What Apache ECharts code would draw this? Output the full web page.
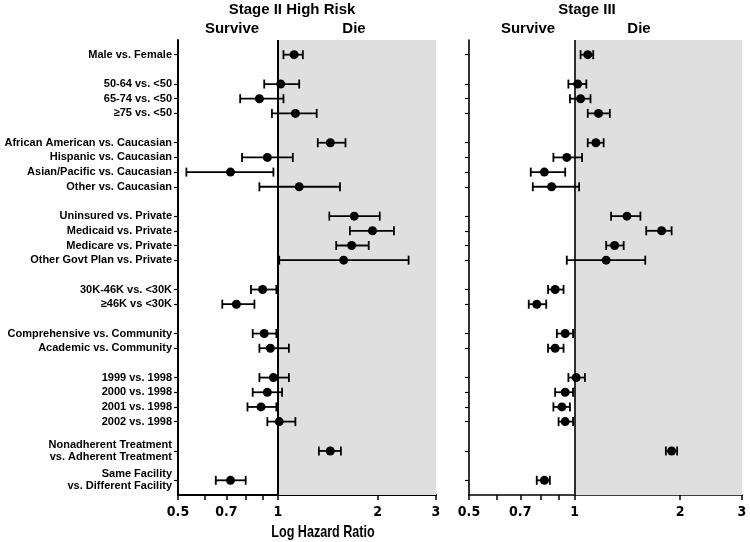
<!DOCTYPE html>
<html>
<head>
<meta charset="utf-8">
<script src="https://cdn.jsdelivr.net/npm/echarts@6/dist/echarts.min.js"></script>
<style>
  html, body { margin: 0; padding: 0; background: #fff; }
  #chart { width: 750px; height: 542px; }
</style>
</head>
<body>
<div id="chart"></div>
<script>
// comparison rows, grouped (a blank row sits between groups)
const groups = [
  ['Male vs. Female'],
  ['50-64 vs. <50', '65-74 vs. <50', '≥75 vs. <50'],
  ['African American vs. Caucasian', 'Hispanic vs. Caucasian', 'Asian/Pacific vs. Caucasian', 'Other vs. Caucasian'],
  ['Uninsured vs. Private', 'Medicaid vs. Private', 'Medicare vs. Private', 'Other Govt Plan vs. Private'],
  ['30K-46K vs. <30K', '≥46K vs <30K'],
  ['Comprehensive vs. Community', 'Academic vs. Community'],
  ['1999 vs. 1998', '2000 vs. 1998', '2001 vs. 1998', '2002 vs. 1998'],
  ['Nonadherent Treatment\nvs. Adherent Treatment'],
  ['Same Facility\nvs. Different Facility']
]

// Stage II high risk: hazard ratio, lower and upper limit
const stage2HR = [1.12, 1.02, 0.88, 1.13, 1.44, 0.93, 0.72, 1.16, 1.70, 1.93, 1.67, 1.58, 0.90, 0.75, 0.91, 0.95, 0.97, 0.93, 0.89, 1.01, 1.44, 0.72]
const stage2Lo = [1.04, 0.91, 0.77, 0.96, 1.32, 0.78, 0.53, 0.88, 1.43, 1.65, 1.50, 1.01, 0.83, 0.68, 0.84, 0.88, 0.88, 0.84, 0.81, 0.93, 1.33, 0.65]
const stage2Hi = [1.19, 1.16, 1.04, 1.31, 1.60, 1.11, 0.97, 1.54, 2.03, 2.24, 1.88, 2.48, 0.99, 0.85, 0.99, 1.08, 1.08, 1.03, 0.99, 1.13, 1.55, 0.80]

// Stage III
const stage3HR = [1.09, 1.02, 1.04, 1.17, 1.15, 0.95, 0.82, 0.86, 1.41, 1.77, 1.30, 1.23, 0.88, 0.78, 0.94, 0.88, 1.01, 0.94, 0.92, 0.94, 1.89, 0.82]
const stage3Lo = [1.04, 0.96, 0.97, 1.09, 1.09, 0.87, 0.75, 0.76, 1.27, 1.60, 1.23, 0.95, 0.84, 0.74, 0.89, 0.84, 0.96, 0.88, 0.87, 0.90, 1.82, 0.78]
const stage3Hi = [1.13, 1.08, 1.11, 1.26, 1.21, 1.05, 0.94, 1.03, 1.54, 1.89, 1.38, 1.59, 0.93, 0.83, 0.99, 0.93, 1.07, 0.99, 0.97, 0.99, 1.96, 0.85]

const tickValues = [0.5, 0.6, 0.7, 0.8, 0.9, 1, 2, 3]
const tickLabels = [0.5, 0.7, 1, 2, 3]

// build the category list with blank spacer rows
let categories = ['']
let rowIndex = []
groups.forEach((g, gi) => {
  g.forEach(name => {
    rowIndex.push(categories.length)
    categories.push(name)
  })
  categories.push(' '.repeat(gi + 1))
})

const boldFont = 'Liberation Sans, Arial, sans-serif'
const narrowFont = 'Liberation Sans Narrow, DejaVu Sans Condensed, Arial Narrow, sans-serif'

function errorBar(lw) {
  return function (params, api) {
    let y = api.value(0)
    let lo = api.coord([api.value(1), y])
    let hi = api.coord([api.value(2), y])
    let h = 4.5
    let style = { stroke: '#000', lineWidth: lw }
    return {
      type: 'group',
      children: [
        { type: 'line', shape: { x1: lo[0], y1: lo[1], x2: hi[0], y2: hi[1] }, style: style },
        { type: 'line', shape: { x1: lo[0], y1: lo[1] - h, x2: lo[0], y2: lo[1] + h }, style: style },
        { type: 'line', shape: { x1: hi[0], y1: hi[1] - h, x2: hi[0], y2: hi[1] + h }, style: style }
      ]
    }
  }
}

function xAxisFor(gi, lw) {
  return {
    type: 'log',
    gridIndex: gi,
    min: 0.5,
    max: 3,
    axisLine: { show: true, lineStyle: { color: '#000', width: lw } },
    axisTick: { show: true, length: 5, customValues: tickValues, lineStyle: { color: '#000', width: 1.5 } },
    axisLabel: {
      customValues: tickLabels,
      color: '#000', fontWeight: 'bold', fontSize: 14, fontFamily: narrowFont, margin: 10,
      formatter: v => String(v)
    },
    splitLine: { show: false }
  }
}

function yAxisFor(gi, showLabels, lw) {
  return {
    type: 'category',
    gridIndex: gi,
    data: categories,
    inverse: true,
    boundaryGap: false,
    axisLine: { show: true, lineStyle: { color: '#000', width: lw } },
    axisTick: {
      show: true, length: 4,
      interval: (i, v) => v.trim() !== '',
      lineStyle: { color: '#000', width: 1.2 }
    },
    axisLabel: {
      show: showLabels,
      interval: 0,
      color: '#000', fontWeight: 'bold', fontSize: 11, lineHeight: 12, fontFamily: boldFont, margin: 6,
      formatter: v => v.trim()
    },
    splitLine: { show: false }
  }
}

function panelSeries(idx, hr, lo, hi, lw) {
  return [
    {
      type: 'scatter', xAxisIndex: idx, yAxisIndex: idx, data: [], z: 0, silent: true,
      markArea: { silent: true, itemStyle: { color: '#dfdfdf' }, data: [[{ xAxis: 1 }, { xAxis: 3 }]] }
    },
    {
      type: 'scatter', xAxisIndex: idx, yAxisIndex: idx, data: [], z: 1, silent: true,
      markLine: {
        silent: true, symbol: 'none', label: { show: false },
        lineStyle: { color: '#000', width: lw, type: 'solid' },
        data: [{ xAxis: 1 }]
      }
    },
    {
      type: 'custom', xAxisIndex: idx, yAxisIndex: idx, z: 2,
      renderItem: errorBar(1.8),
      encode: { x: [1, 2], y: 0 },
      data: rowIndex.map((r, i) => [r, lo[i], hi[i]])
    },
    {
      type: 'scatter', xAxisIndex: idx, yAxisIndex: idx, z: 3,
      symbol: 'circle', symbolSize: 9,
      itemStyle: { color: '#000', opacity: 1 },
      data: rowIndex.map((r, i) => [hr[i], r])
    }
  ]
}

const headStyle = { color: '#000', fontWeight: 'bold', fontSize: 15, fontFamily: boldFont }

let chart = echarts.init(document.getElementById('chart'))
chart.setOption({
  animation: false,
  backgroundColor: '#fff',
  title: [
    { text: 'Stage II High Risk', left: 287, top: -3, textAlign: 'center', textStyle: headStyle },
    { text: 'Survive', left: 227, top: 16, textAlign: 'center', textStyle: headStyle },
    { text: 'Die', left: 349, top: 16, textAlign: 'center', textStyle: headStyle },
    { text: 'Stage III', left: 582, top: -3, textAlign: 'center', textStyle: headStyle },
    { text: 'Survive', left: 523, top: 16, textAlign: 'center', textStyle: headStyle },
    { text: 'Die', left: 634, top: 16, textAlign: 'center', textStyle: headStyle }
  ],
  graphic: [{
    type: 'text', x: 323, y: 532, scaleX: 0.74,
    style: {
      text: 'Log Hazard Ratio', align: 'center', verticalAlign: 'middle',
      fill: '#000', font: 'bold 17px Liberation Sans, Arial, sans-serif'
    }
  }],
  grid: [
    { left: 178, right: 314, top: 40, bottom: 47 },
    { left: 469, right: 8, top: 40, bottom: 47 }
  ],
  xAxis: [xAxisFor(0, 2), xAxisFor(1, 1.6)],
  yAxis: [yAxisFor(0, true, 2), yAxisFor(1, false, 1.6)],
  series: [].concat(
    panelSeries(0, stage2HR, stage2Lo, stage2Hi, 2),
    panelSeries(1, stage3HR, stage3Lo, stage3Hi, 1.6)
  )
})
</script>
</body>
</html>
